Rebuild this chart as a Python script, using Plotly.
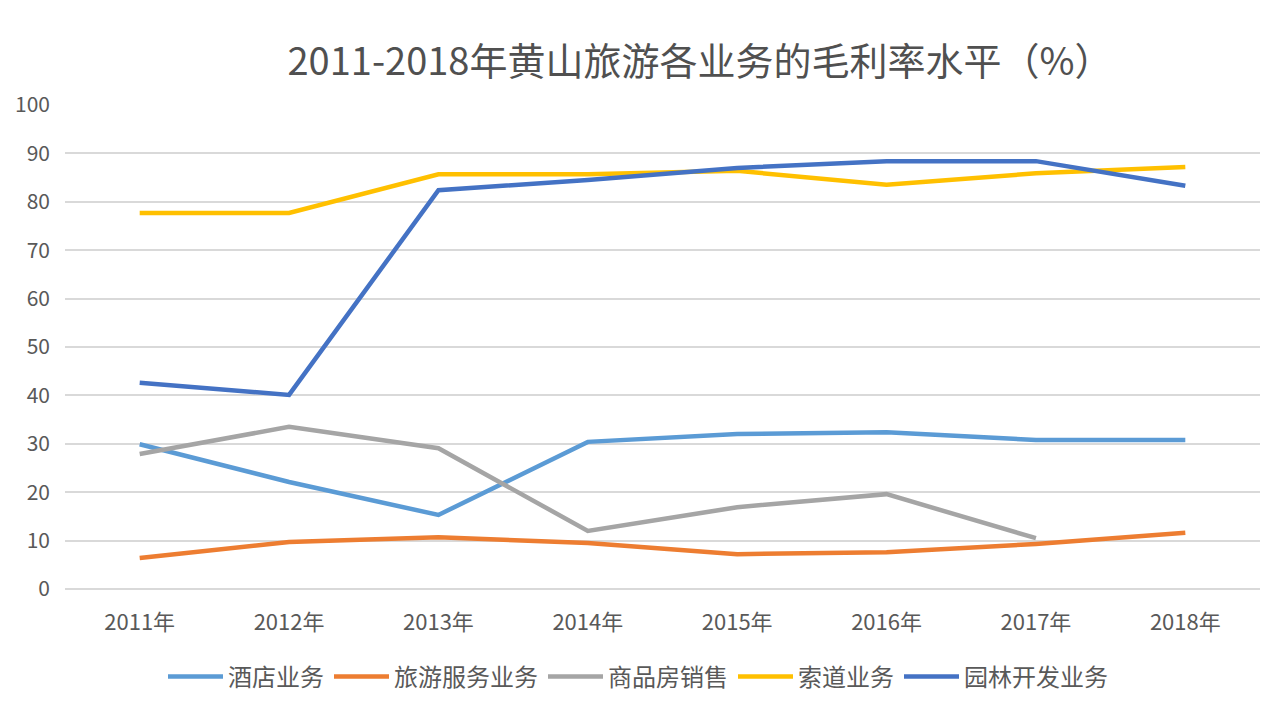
import plotly.graph_objects as go

years = ["2011年", "2012年", "2013年", "2014年", "2015年", "2016年", "2017年", "2018年"]
hotel = [29.9, 22.1, 15.3, 30.4, 32.0, 32.4, 30.8, 30.8]
tour_service = [6.4, 9.7, 10.7, 9.5, 7.2, 7.6, 9.3, 11.6]
housing = [27.9, 33.5, 29.1, 12.0, 16.9, 19.6, 10.5, None]
cableway = [77.7, 77.7, 85.7, 85.7, 86.4, 83.5, 85.9, 87.2]
garden = [42.6, 40.1, 82.4, 84.5, 87.0, 88.4, 88.4, 83.3]

names = ["酒店业务", "旅游服务业务", "商品房销售", "索道业务", "园林开发业务"]
colors = ["#5B9BD5", "#ED7D31", "#A5A5A5", "#FFC000", "#4472C4"]
series = [hotel, tour_service, housing, cableway, garden]

font_family = "Noto Sans CJK SC, Noto Sans, sans-serif"

fig = go.Figure()
for name, color, vals in zip(names, colors, series):
    fig.add_trace(go.Scatter(
        x=years, y=vals, name=name, mode="lines",
        line=dict(color=color, width=4.5),
        connectgaps=False,
    ))

fig.update_layout(
    width=1281, height=718,
    paper_bgcolor="white", plot_bgcolor="white",
    margin=dict(l=65, r=21, t=105, b=129, autoexpand=False),
    font=dict(family=font_family, color="#595959"),
    title=dict(
        text="2011-2018年黄山旅游各业务的毛利率水平（%）",
        x=700 / 1281, xref="container", xanchor="center",
        y=1 - 62 / 718, yref="container", yanchor="middle",
        font=dict(size=38, color="#505050", family=font_family),
    ),
    showlegend=True,
    legend=dict(
        orientation="h", x=(638 - 65) / 1195, xanchor="center",
        y=-(677 - 589) / 484, yanchor="middle",
        font=dict(size=24, color="#595959", family=font_family),
        bgcolor="rgba(0,0,0,0)",
        itemwidth=55,
    ),
    xaxis=dict(
        type="category", showgrid=False, showline=False, zeroline=False,
        ticks="", tickfont=dict(size=22, color="#595959"),
        ticklabelstandoff=18, tickangle=0,
        range=[-0.5, 7.5],
    ),
    yaxis=dict(
        range=[0, 100], dtick=10, tick0=0,
        showgrid=True, gridcolor="#D9D9D9", gridwidth=1.5,
        zeroline=True, zerolinecolor="#D9D9D9", zerolinewidth=1.5,
        showline=False, ticks="",
        tickfont=dict(size=21, color="#595959"),
        ticklabelstandoff=14,
    ),
)

fig.write_html("out.html")
